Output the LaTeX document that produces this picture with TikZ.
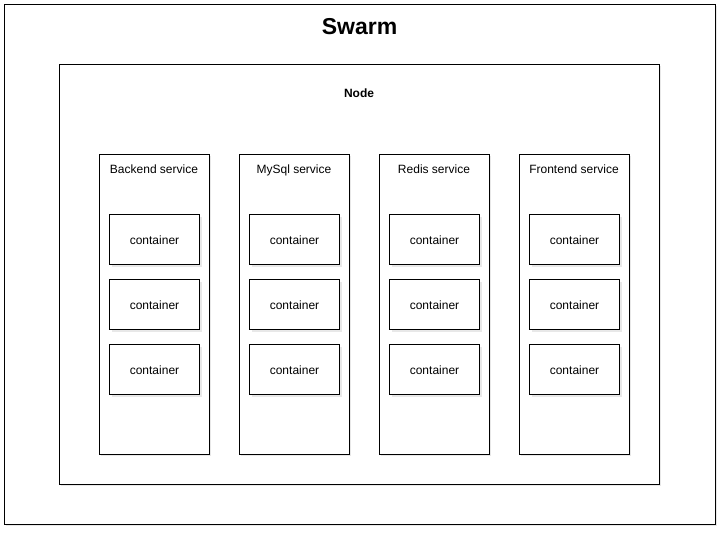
\documentclass[tikz,border=0pt]{standalone}
\usepackage{fontspec}
\setmainfont{Liberation Sans}
\usetikzlibrary{shadows}
\begin{document}
\begin{tikzpicture}[x=1pt,y=-1pt,
  box/.style={draw=black,line width=1pt,fill=white,
    drop shadow={opacity=0.18,shadow xshift=2pt,shadow yshift=-2pt}},
  lbl/.style={font=\fontsize{12}{14}\selectfont,inner sep=0pt,anchor=base},
  ctr/.style={box,minimum width=90pt,minimum height=50pt,inner sep=0pt,anchor=north west,
    font=\fontsize{12}{14}\selectfont,text height=10.6pt,text depth=0pt}]
\useasboundingbox[fill=white] (0,0) rectangle (722,533);
\draw[box] (4,4) rectangle (715,524);
\node[font=\bfseries\fontsize{23}{27}\selectfont,inner sep=0pt,anchor=base] (swarm) at (359.5,34) {Swarm};
\draw[box] (59,64) rectangle (659,484);
\node[lbl,font=\bfseries\fontsize{12}{14}\selectfont] (node) at (359,97) {Node};
\foreach \x/\name/\t in {99/back/Backend service,239/mysql/MySql service,379/redis/Redis service,519/front/Frontend service}{
  \draw[box] (\x,154) rectangle ++(110,300);
  \node[lbl] (\name) at ({\x+55},173) {\t};
  \node[ctr] (\name1) at ({\x+10},214) {container};
  \node[ctr] (\name2) at ({\x+10},279) {container};
  \node[ctr] (\name3) at ({\x+10},344) {container};
}
\end{tikzpicture}
\end{document}
